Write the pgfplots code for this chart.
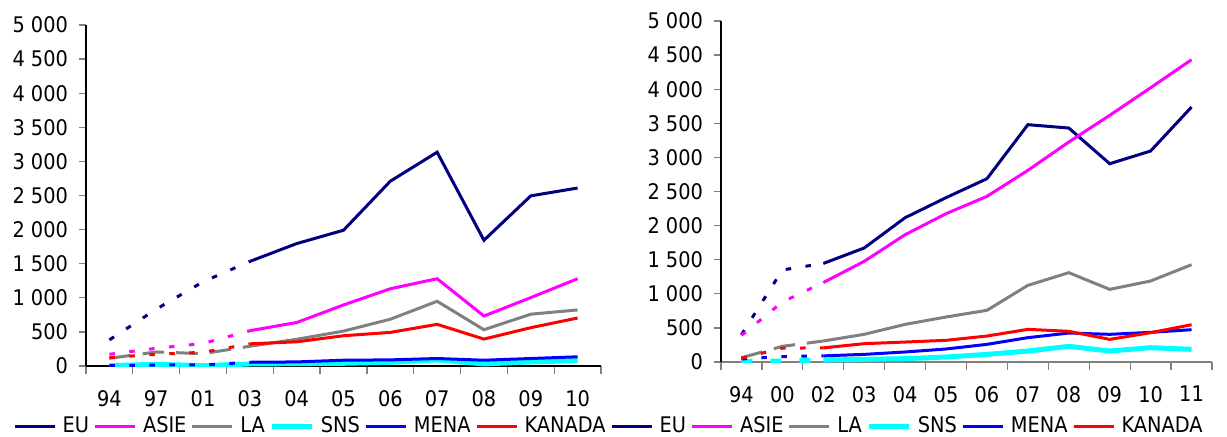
\documentclass[border=0pt]{standalone}
\usepackage{fontspec}
\setmainfont{DejaVu Sans}[FakeStretch=0.9]
\usepackage{pgfplots}
\usepackage{pgfplotstable}
\pgfplotsset{compat=1.18}

\definecolor{cEU}{RGB}{0,0,128}
\definecolor{cASIE}{RGB}{255,0,255}
\definecolor{cLA}{RGB}{128,128,128}
\definecolor{cSNS}{RGB}{0,255,255}
\definecolor{cMENA}{RGB}{0,0,255}
\definecolor{cKAN}{RGB}{255,0,0}
\newcommand\fsz{\fontsize{10.75}{13}\selectfont}

% left chart: 94, 97, 01 estimated (dotted), 03-10 solid
\pgfplotstableread{
x EU ASIE LA SNS MENA KANADA
0 383 172 113 5 5 123
1 833 260 206 25 15 172
2 1235 330 181 5 15 201
3 1534 518 290 30 55 325
}\leftdot
\pgfplotstableread{
x EU ASIE LA SNS MENA KANADA
3 1534 518 290 30 55 325
4 1795 638 392 35 60 355
5 1991 895 512 40 85 444
6 2710 1133 686 55 90 493
7 3135 1280 949 90 110 611
8 1844 733 532 30 85 395
9 2495 1003 760 60 110 562
10 2610 1280 822 80 135 704
}\leftsolid

% right chart: 94, 00 estimated (dotted), 02-11 solid
\pgfplotstableread{
x EU ASIE LA SNS MENA KANADA
0 400 390 63 10 45 55
1 1350 880 230 15 80 204
2 1445 1165 308 28 90 207
}\rightdot
\pgfplotstableread{
x EU ASIE LA SNS MENA KANADA
2 1445 1165 308 28 90 207
3 1672 1476 406 39 112 269
4 2116 1867 552 49 147 293
5 2410 2175 660 73 191 318
6 2688 2429 758 112 259 381
7 3480 2810 1124 161 357 479
8 3431 3226 1310 230 425 450
9 2908 3617 1065 161 406 332
10 3094 4022 1188 210 435 430
11 3739 4433 1427 186 474 547
}\rightsolid

\pgfplotsset{
  lines/.style={
    scale only axis,
    height=170.5pt,
    ymin=0, ymax=5000,
    axis lines*=left,
    axis line style={black, line width=0.65pt},
    ytick={0,500,...,5000},
    yticklabels={0,500,1 000,1 500,2 000,2 500,3 000,3 500,4 000,4 500,5 000},
    minor ytick={0,500,...,5000},
    major tick length=0pt,
    minor tick length=3.75pt,
    tick align=outside,
    every minor tick/.style={gray, line width=0.65pt},
    tick label style={font=\fsz},
    yticklabel style={xshift=-5.5pt},
    xticklabel style={yshift=-8.5pt},
    legend columns=-1,
    legend image code/.code={\draw[##1, solid] (0pt,0pt) -- (20pt,0pt);},
    legend style={draw=none, fill=none, font=\fsz, inner sep=0pt, outer sep=0pt,
      nodes={inner sep=0pt},
      /tikz/every even column/.append style={column sep=2.2pt},
      /tikz/every odd column/.append style={column sep=3.3pt}},
    solidline/.style={line width=1.5pt},
    dotsq/.style={line width=1.5pt, dash pattern=on 2.75pt off 7.25pt},
    dashg/.style={line width=1.5pt, dash pattern=on 10.8pt off 6pt},
  },
}

\begin{document}
\begin{tikzpicture}
\path[use as bounding box] (0pt,0pt) rectangle (613.5pt,-218pt);

\begin{axis}[lines,
  at={(43pt,-183pt)}, anchor=south west,
  width=257.5pt,
  xmin=-0.5, xmax=10.5,
  xtick={0,...,10},
  xticklabels={94,97,01,03,04,05,06,07,08,09,10},
  minor xtick={-0.5,0.5,...,10.5},
  legend style={at={(-0.1417,-0.177)}, anchor=west},
]
\addplot[cEU, dotsq, forget plot] table[x=x, y=EU] {\leftdot};
\addplot[cASIE, dotsq, forget plot] table[x=x, y=ASIE] {\leftdot};
\addplot[cLA, dashg, forget plot] table[x=x, y=LA] {\leftdot};
\addplot[cSNS, line width=2.5pt, forget plot] table[x=x, y=SNS] {\leftdot};
\addplot[cMENA, dotsq, forget plot] table[x=x, y=MENA] {\leftdot};
\addplot[cKAN, dotsq, forget plot] table[x=x, y=KANADA] {\leftdot};

\addplot[cEU, solidline] table[x=x, y=EU] {\leftsolid};
\addplot[cASIE, solidline] table[x=x, y=ASIE] {\leftsolid};
\addplot[cLA, solidline] table[x=x, y=LA] {\leftsolid};
\addplot[cSNS, line width=2.5pt] table[x=x, y=SNS] {\leftsolid};
\addplot[cMENA, solidline] table[x=x, y=MENA] {\leftsolid};
\addplot[cKAN, solidline] table[x=x, y=KANADA] {\leftsolid};
\legend{EU,ASIE,LA,SNS,MENA,KANADA}
\end{axis}

\begin{axis}[lines,
  at={(360.5pt,-181pt)}, anchor=south west,
  width=245.5pt,
  xmin=-0.5, xmax=11.5,
  x axis line style={gray},
  xtick={0,...,11},
  xticklabels={94,00,02,03,04,05,06,07,08,09,10,11},
  minor xtick={-0.5,0.5,...,11.5},
  legend style={at={(-0.226,-0.188)}, anchor=west},
]
\addplot[cEU, dotsq, forget plot] table[x=x, y=EU] {\rightdot};
\addplot[cASIE, dotsq, forget plot] table[x=x, y=ASIE] {\rightdot};
\addplot[cLA, dashg, forget plot] table[x=x, y=LA] {\rightdot};
\addplot[cSNS, line width=2.5pt, dash pattern=on 5.5pt off 9pt, forget plot] table[x=x, y=SNS] {\rightdot};
\addplot[cMENA, dotsq, forget plot] table[x=x, y=MENA] {\rightdot};
\addplot[cKAN, dotsq, forget plot] table[x=x, y=KANADA] {\rightdot};

\addplot[cEU, solidline] table[x=x, y=EU] {\rightsolid};
\addplot[cASIE, solidline] table[x=x, y=ASIE] {\rightsolid};
\addplot[cLA, solidline] table[x=x, y=LA] {\rightsolid};
\addplot[cSNS, line width=2.5pt] table[x=x, y=SNS] {\rightsolid};
\addplot[cMENA, solidline] table[x=x, y=MENA] {\rightsolid};
\addplot[cKAN, solidline] table[x=x, y=KANADA] {\rightsolid};
\legend{EU,ASIE,LA,SNS,MENA,KANADA}
\end{axis}
\end{tikzpicture}
\end{document}
